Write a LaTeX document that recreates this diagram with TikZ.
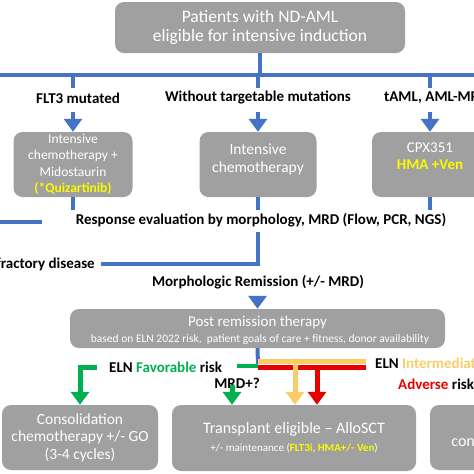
\documentclass[tikz,border=0pt]{standalone}
\usepackage{fontspec}
\setmainfont{Carlito}
\usetikzlibrary{arrows.meta}
\definecolor{boxgray}{RGB}{160,160,160}
\definecolor{flowblue}{RGB}{68,114,196}
\definecolor{favgreen}{RGB}{0,176,80}
\definecolor{advred}{RGB}{232,0,0}
\definecolor{intyellow}{RGB}{250,204,104}
\definecolor{hiyellow}{RGB}{250,250,0}

\begin{document}
\begin{tikzpicture}[x=1pt, y=-1pt,
  box/.style={fill=boxgray, rounded corners=9pt, text=white, align=center, inner sep=0pt},
  boxtext/.style={text=white, align=center, inner sep=0pt},
  lab/.style={font=\bfseries\fontsize{15}{18}\selectfont, inner sep=0pt},
  flow/.style={draw=flowblue, line width=4pt},
  tip/.style={-{Triangle[width=18pt,length=13pt]}}]
	\useasboundingbox (0,0) rectangle (474,474);
	\clip (0,0) rectangle (474,474);
	% top of the tree
	\node[box, minimum width=290, minimum height=51, font=\fontsize{17.5}{19.5}\selectfont] (pat) at (260,27.5) {Patients with ND-AML\\eligible for intensive induction};
	\coordinate (hl) at (0,75);
	\coordinate (hr) at (474,75);
	\draw[flow] (hl) -- (hr);
	\draw[flow] (pat.south) -- (pat.south |- hl);
	% three induction branches
	\node[lab] (lflt) at (78,98) {FLT3 mutated};
	\node[lab] (lnot) at (258,97) {Without targetable mutations};
	\node[lab, anchor=west] (ltaml) at (384,98) {tAML, AML-MRC};
	\node[box, minimum width=119, minimum height=65, font=\fontsize{13.5}{16.5}\selectfont] (flt) at (73,164.5) {Intensive\\chemotherapy +\\Midostaurin\\\textcolor{hiyellow}{\bfseries(*Quizartinib)}};
	\node[box, minimum width=117, minimum height=65] (mid) at (258,164.5) {};
	\node[boxtext, font=\fontsize{15.5}{18}\selectfont] (midt) at ([yshift=5.5]mid.center) {Intensive\\chemotherapy};
	\node[box, minimum width=116, minimum height=65] (cpx) at (430,164.5) {};
	\node[boxtext, font=\fontsize{15}{17}\selectfont] (cpxt) at ([yshift=8]cpx.center) {CPX351\\\textcolor{hiyellow}{\bfseries HMA +Ven}};
	\foreach \n/\l in {flt/lflt, mid/lnot, cpx/ltaml} {
		\draw[flow] (\n.north |- hl) -- +(0,13);
		\draw[flow, tip] ([yshift=-8]\n.north |- \l.south) -- (\n.north);
		\draw[flow] (\n.south) -- +(0,13);
	}
	% response evaluation
	\node[lab] (resp) at (261,220) {Response evaluation by morphology, MRD (Flow, PCR, NGS)};
	\coordinate (rl) at (0,222);
	\coordinate (rr) at (42,222);
	\draw[flow] (rl) -- (rr);
	\node[lab, anchor=east] (refr) at (95,264) {Refractory disease};
	\draw[flow] (258,232) |- ([xshift=6]refr.east);
	\node[lab] (morph) at (258,282) {Morphologic Remission (+/- MRD)};
	\node[box, minimum width=375, minimum height=39] (post) at (257.5,328.5) {};
	\node[boxtext, font=\fontsize{15}{18}\selectfont] (ptit) at (257.5,322) {Post remission therapy};
	\node[boxtext, font=\fontsize{11.5}{13}\selectfont] (psub) at (260,339) {based on ELN 2022 risk,\ \ patient goals of care + fitness, donor availability};
	\draw[flow, tip] ([yshift=-7]morph.south -| post.north) -- (post.north);
	% risk groups
	\coordinate (jn) at (258,364);
	\draw[flow] (post.south) -- (jn);
	\node[box, minimum width=156, minimum height=65, font=\fontsize{15.5}{17.5}\selectfont] (cons) at (80,437.5) {Consolidation\\chemotherapy +/- GO\\(3-4 cycles)};
	\node[box, minimum width=244, minimum height=66, font=\fontsize{16}{18}\selectfont] (tx) at (294,438) {Transplant eligible -- AlloSCT\\{\fontsize{11}{13}\selectfont +/- maintenance (\textcolor{hiyellow}{\bfseries FLT3i}, \textcolor{hiyellow}{\bfseries HMA+/- Ven})}};
	\node[box, minimum width=130, minimum height=65, font=\fontsize{16}{18}\selectfont] (nontx) at (495,437.5) {\\consolidation};
	\node[lab, anchor=west] (lfav) at (109,367) {ELN \textcolor{favgreen}{Favorable} risk};
	\node[lab] (lmrd) at (237,383) {MRD+?};
	\node[lab, anchor=west] (lint) at (375,364) {ELN \textcolor{intyellow}{Intermediate/}};
	\node[lab, anchor=west] (ladv) at (398,384) {\textcolor{advred}{Adverse} risk};
	\draw[draw=favgreen, line width=4.5pt] (237,366) -- (jn |- 0,366);
	\draw[draw=intyellow, line width=4.5pt] (jn |- 0,361.5) -- (366,361.5);
	\draw[draw=advred, line width=5pt] (jn |- 0,367) -- (366,367);
	\draw[draw=favgreen, line width=5pt, tip] ([xshift=-12]lfav.west |- 0,367) -- (80,367) -- (cons.north -| 80,0);
	\draw[draw=favgreen, line width=5pt, tip] ([yshift=3]lmrd.south -| 232,0) -- (tx.north -| 232,0);
	\draw[draw=intyellow, line width=5pt, tip] (295,364) -- (tx.north -| 295,0);
	\draw[draw=advred, line width=5pt, tip] (317,369) -- (tx.north -| 317,0);
\end{tikzpicture}
\end{document}
